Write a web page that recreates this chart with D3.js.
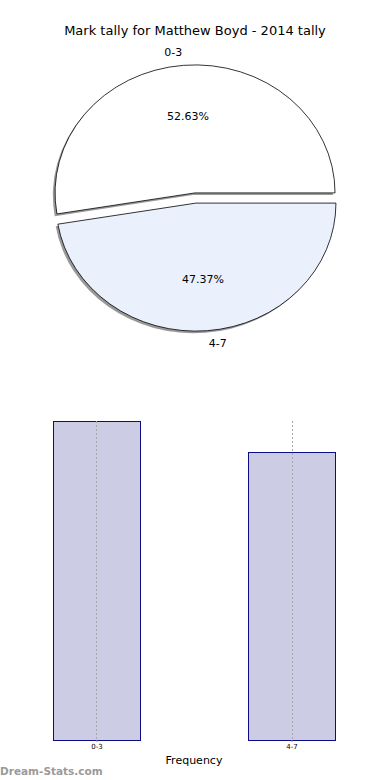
<!DOCTYPE html>
<meta charset="utf-8">
<style>
body { margin: 0; background: #fff; }
svg { display: block; font-family: "DejaVu Sans", sans-serif; }
.slice { stroke: #000; stroke-width: 0.8px; vector-effect: non-scaling-stroke; }
.shadow { fill: #333; opacity: 0.5; }
.bar { fill: #cccce5; stroke: #0c0c85; stroke-width: 1px; shape-rendering: crispEdges; }
.grid { stroke: #a8a8a8; stroke-width: 1px; stroke-dasharray: 2,2; shape-rendering: crispEdges; }
</style>
<svg width="390" height="780"></svg>
<script src="https://d3js.org/d3.v7.min.js"></script>
<script>

var title = "Mark tally for Matthew Boyd - 2014 tally";
var categories = ["0-3", "4-7"];
var counts = [10, 9];
var sliceColors = ["#ffffff", "#eaf0fc"];

var svg = d3.select("svg");

svg.append("text")
  .attr("x", 195)
  .attr("y", 35)
  .attr("text-anchor", "middle")
  .style("font-size", "13px")
  .text(title);

// pie (matplotlib style: starts at east, goes counter-clockwise, exploded, shadowed)
var cx = 195.5, cy = 198, rx = 140, ry = 128;
var explode = 0.04;
var total = d3.sum(counts);

var pie = d3.pie()
  .sort(null)
  .startAngle(Math.PI / 2)
  .endAngle(Math.PI / 2 - 2 * Math.PI);

var arcs = pie(counts);
var arc = d3.arc().innerRadius(0).outerRadius(rx);

var pg = svg.append("g")
  .attr("transform", "translate(" + cx + "," + cy + ") scale(1," + (ry / rx) + ")");

function midAngle(d) { return (d.startAngle + d.endAngle) / 2; }
function offset(d, f) {
  var a = midAngle(d);
  return [Math.sin(a) * rx * f, -Math.cos(a) * rx * f];
}

arcs.forEach(function(d, i) {
  var o = offset(d, explode);
  pg.append("path")
    .attr("class", "shadow")
    .attr("transform", "translate(" + (o[0] - 2.2) + "," + (o[1] + 2.4) + ")")
    .attr("d", arc(d));
});

arcs.forEach(function(d, i) {
  var o = offset(d, explode);
  pg.append("path")
    .attr("class", "slice")
    .attr("fill", sliceColors[i])
    .attr("transform", "translate(" + o[0] + "," + o[1] + ")")
    .attr("d", arc(d));
});

arcs.forEach(function(d, i) {
  var a = midAngle(d);
  var o = offset(d, explode);
  var ox = cx + o[0], oy = cy + o[1] * ry / rx;
  var lx = ox + Math.sin(a) * rx * 1.1, ly = oy - Math.cos(a) * ry * 1.1;
  svg.append("text")
    .attr("x", lx)
    .attr("y", ly)
    .attr("dy", "0.35em")
    .attr("text-anchor", Math.sin(a) < 0 ? "end" : "start")
    .style("font-size", "11px")
    .text(categories[i]);
  var px = ox + Math.sin(a) * rx * 0.6, py = oy - Math.cos(a) * ry * 0.6;
  svg.append("text")
    .attr("x", px)
    .attr("y", py)
    .attr("dy", "0.35em")
    .attr("text-anchor", "middle")
    .style("font-size", "11px")
    .text((counts[i] / total * 100).toFixed(2) + "%");
});

// bar chart
var x = d3.scaleBand()
  .domain(categories)
  .range([53.5, 335.5])
  .paddingInner(0.554)
  .paddingOuter(0);

var y = d3.scaleLinear()
  .domain([0, d3.max(counts)])
  .range([740, 421]);

svg.selectAll(".bar")
  .data(counts)
  .enter()
  .append("rect")
  .attr("class", "bar")
  .attr("x", (d, i) => x(categories[i]))
  .attr("y", d => y(d))
  .attr("width", x.bandwidth())
  .attr("height", d => y(0) - y(d));

svg.selectAll(".grid")
  .data(categories)
  .enter()
  .append("line")
  .attr("class", "grid")
  .attr("x1", d => x(d) + x.bandwidth() / 2)
  .attr("x2", d => x(d) + x.bandwidth() / 2)
  .attr("y1", y(d3.max(counts)))
  .attr("y2", y(0));

var xAxis = svg.append("g")
  .attr("transform", "translate(0," + y(0) + ")")
  .call(d3.axisBottom(x).tickSize(2).tickPadding(2));
xAxis.select(".domain").remove();
xAxis.selectAll("text").style("font-size", "7px").attr("font-family", "DejaVu Sans");
xAxis.selectAll("line").attr("stroke", "#888");

svg.append("text")
  .attr("x", 194)
  .attr("y", 764)
  .attr("text-anchor", "middle")
  .style("font-size", "11px")
  .text("Frequency");

svg.append("text")
  .attr("x", 0)
  .attr("y", 775)
  .style("font-size", "10.5px")
  .style("font-weight", "bold")
  .style("fill", "#9a9a9a")
  .text("Dream-Stats.com");

</script>
